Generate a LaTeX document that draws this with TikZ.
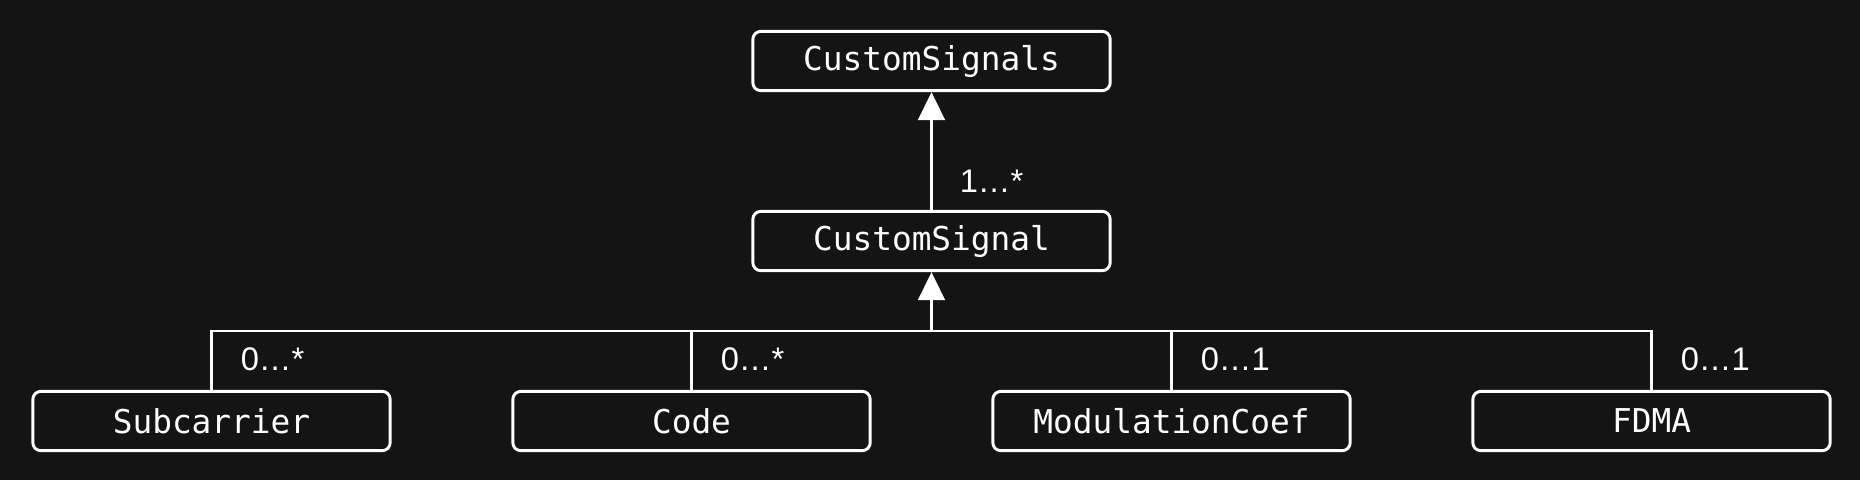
\documentclass[tikz,border=0pt]{standalone}
\usepackage{fontspec}
\setmainfont{Liberation Sans}
\newfontfamily\classfont{DejaVu Sans Mono}
\usetikzlibrary{arrows.meta,positioning,calc}
\definecolor{bgdark}{HTML}{141414}

\begin{document}
\begin{tikzpicture}[
  x=0.75pt, y=-0.75pt,
  every node/.style={align=center},
  cls/.style={draw=white, rounded corners=6pt, minimum width=268pt, minimum height=44.5pt,
              inner sep=0pt, fill=bgdark, line width=2.2pt, text=white,
              font=\classfont\fontsize{24.6}{28}\selectfont},
  mult/.style={anchor=west, inner sep=0pt, text=white, font=\fontsize{24.5}{28}\selectfont},
  link/.style={draw=white, line width=2.2pt},
  arr/.style={link, -{Triangle[width=20pt, length=21pt]}},
]

%% --- background and page size ---
\fill[bgdark] (0,0) rectangle (1860,480);
\useasboundingbox (0,0) rectangle (1860,480);

%% --- Classes ---
\node[cls] (signals) at (931.5, 61) {CustomSignals};
\node[cls] (signal)  at (931.5,241) {CustomSignal};

\node[cls] (sub)  at ( 211.5,421) {Subcarrier};
\node[cls] (code) at ( 691.5,421) {Code};
\node[cls] (mod)  at (1171.5,421) {ModulationCoef};
\node[cls] (fdma) at (1651.5,421) {FDMA};

%% --- Junction ---
\coordinate (bus) at (931.5,331);

%% --- Connectors ---
\draw[link] (sub.north) |- (bus) -| (fdma.north);
\draw[link] (code.north) -- (code.north |- bus);
\draw[link] (mod.north) -- (mod.north |- bus);
\draw[arr] (bus) -- (signal.south);
\draw[arr] (signal.north) -- (signals.south);

%% --- Multiplicities ---
\node[mult] (m0) at ($(signal.north)+(28,-29)$) {1…*};
\node[mult] (m1) at ($(sub.north)+(29,-31)$)    {0…*};
\node[mult] (m2) at ($(code.north)+(29,-31)$)   {0…*};
\node[mult] (m3) at ($(mod.north)+(29,-31)$)    {0…1};
\node[mult] (m4) at ($(fdma.north)+(29,-31)$)   {0…1};

\end{tikzpicture}
\end{document}
